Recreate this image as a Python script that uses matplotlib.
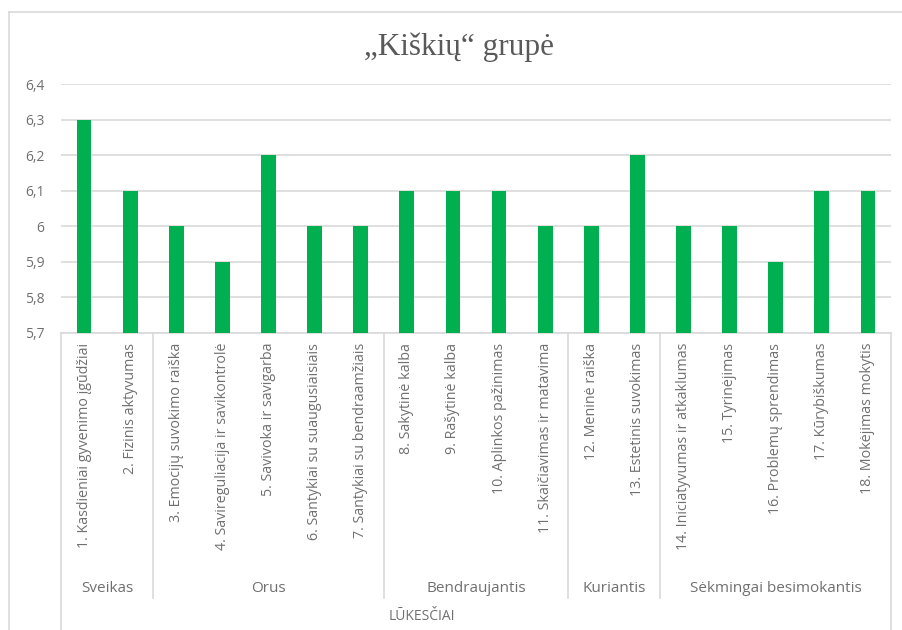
import matplotlib
matplotlib.use("Agg")
import matplotlib.pyplot as plt
from matplotlib.lines import Line2D
import matplotlib.transforms as mtransforms

categories = [
    "1. Kasdieniai gyvenimo įgūdžiai",
    "2. Fizinis aktyvumas",
    "3. Emocijų suvokimo raiška",
    "4. Savireguliacija ir savikontrolė",
    "5. Savivoka ir savigarba",
    "6. Santykiai su suaugusiaisiais",
    "7. Santykiai su bendraamžiais",
    "8. Sakytinė kalba",
    "9. Rašytinė kalba",
    "10. Aplinkos pažinimas",
    "11. Skaičiavimas ir matavima",
    "12. Meninė raiška",
    "13. Estetinis suvokimas",
    "14. Iniciatyvumas ir atkaklumas",
    "15. Tyrinėjimas",
    "16. Problemų sprendimas",
    "17. Kūrybiškumas",
    "18. Mokėjimas mokytis",
]
values = [6.3, 6.1, 6.0, 5.9, 6.2, 6.0, 6.0, 6.1, 6.1, 6.1, 6.0, 6.0, 6.2, 6.0, 6.0, 5.9, 6.1, 6.1]
groups = ["Sveikas", "Orus", "Bendraujantis", "Kuriantis", "Sėkmingai besimokantis"]
group_sizes = [2, 5, 4, 2, 5]
yticks = [5.7, 5.8, 5.9, 6.0, 6.1, 6.2, 6.3, 6.4]
ytick_labels = ["5,7", "5,8", "5,9", "6", "6,1", "6,2", "6,3", "6,4"]
title = "„Kiškių“ grupė"
axis_title = "LŪKESČIAI"

W, H = 902, 630
fig = plt.figure(figsize=(W / 100, H / 100), dpi=100)
fig.patch.set_facecolor("white")

ax_l, ax_r, ax_b, ax_t = 61, 891, 333, 84
ax = fig.add_axes([ax_l / W, 1 - ax_b / H, (ax_r - ax_l) / W, (ax_b - ax_t) / H])

text_color = "#707070"
grid_color = "#d9d9d9"
font = "Open Sans"

x = list(range(len(categories)))
ax.bar(x, [v - 5.7 for v in values], bottom=5.7, width=0.32, color="#00b050", zorder=3)
ax.set_xlim(-0.5, len(categories) - 0.5)
ax.set_ylim(5.7, 6.4)
ax.set_yticks(yticks)
ax.set_yticklabels(ytick_labels, fontsize=10, color=text_color, family=font)
ax.yaxis.grid(True, color=grid_color, linewidth=1.2, zorder=0)
ax.tick_params(axis="y", length=0, pad=12)
ax.set_xticks(x)
ax.set_xticklabels(categories, rotation=90, fontsize=10.3, color=text_color, family=font, va="top")
ax.tick_params(axis="x", length=0, pad=7)
for s in ["top", "right", "left"]:
    ax.spines[s].set_visible(False)
ax.spines["bottom"].set_color(grid_color)
ax.spines["bottom"].set_linewidth(1.2)

trans = mtransforms.blended_transform_factory(ax.transData, ax.transAxes)
axh = ax_b - ax_t
y_inner = (ax_b - 598) / axh
y_outer = (ax_b - 630) / axh
y_group = (ax_b - 588) / axh
y_title = (ax_b - 617) / axh

# dividers
edges = [-0.5]
for s in group_sizes:
    edges.append(edges[-1] + s)
for i, e in enumerate(edges):
    yb = y_outer if i in (0, len(edges) - 1) else y_inner
    ax.add_line(Line2D([e, e], [0, yb], transform=trans, color=grid_color, linewidth=1.2, clip_on=False))
for i, g in enumerate(groups):
    c = (edges[i] + edges[i + 1]) / 2
    ax.text(c, y_group, g, transform=trans, ha="center", va="center", fontsize=11,
            color=text_color, family=font, clip_on=False)

ax.text(7.33, y_title, axis_title, transform=trans, ha="center", va="center", fontsize=10,
        color=text_color, family=font, clip_on=False)

fig.text(459 / W, 1 - 47 / H, title, ha="center", va="center", fontsize=22.5,
         color="#595959", family="Liberation Serif")

# outer chart border
fig.add_artist(Line2D([8.5 / W, 8.5 / W], [0, 1 - 11.5 / H], transform=fig.transFigure, color=grid_color, linewidth=1.2))
fig.add_artist(Line2D([8.5 / W, 1], [1 - 11.5 / H, 1 - 11.5 / H], transform=fig.transFigure, color=grid_color, linewidth=1.2))

fig.savefig("out.png", dpi=100, facecolor="white")
